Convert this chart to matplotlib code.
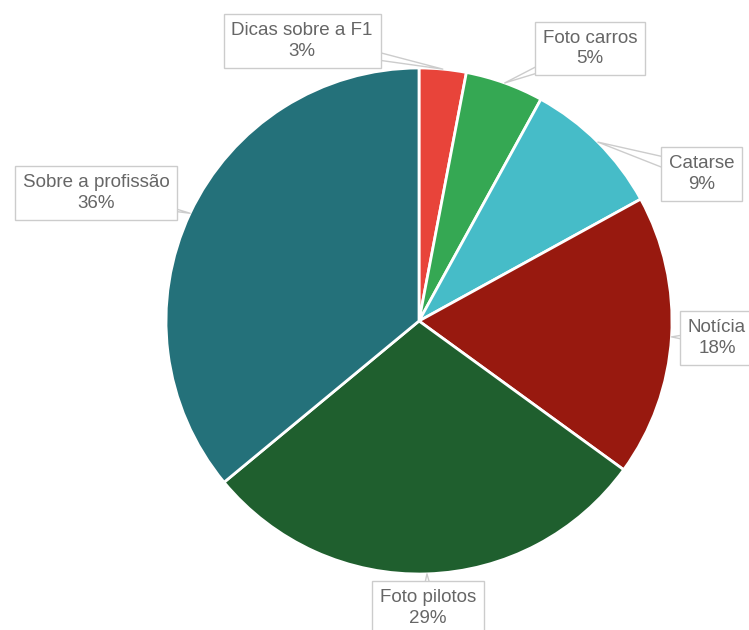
import matplotlib.pyplot as plt
import numpy as np

# Dados do gráfico (sentido horário a partir do topo)
categorias = ['Dicas sobre a F1', 'Foto carros', 'Catarse', 'Notícia',
              'Foto pilotos', 'Sobre a profissão']
valores = [3, 5, 9, 18, 29, 36]
cores = ['#E8443A', '#35A853', '#46BCC8', '#98190F', '#1F5F2E', '#24717A']

# Posição das caixas de rótulo (coordenadas de dados, raio = 1)
pos_rotulos = [(-0.462, 1.107), (0.676, 1.078), (1.118, 0.581),
               (1.178, -0.067), (0.036, -1.134), (-1.277, 0.506)]

fig = plt.figure(figsize=(7.49, 6.3), dpi=100)
ax = fig.add_axes([166 / 749, 56 / 630, 506 / 749, 506 / 630])

wedges, _ = ax.pie(valores, colors=cores, startangle=90, counterclock=False,
                   radius=1, wedgeprops=dict(edgecolor='white', linewidth=2))
ax.set_xlim(-1, 1)
ax.set_ylim(-1, 1)
ax.set_aspect('equal')
ax.axis('off')

total = sum(valores)
for w, nome, v, (tx, ty) in zip(wedges, categorias, valores, pos_rotulos):
    ang = np.deg2rad((w.theta1 + w.theta2) / 2)
    px, py = np.cos(ang), np.sin(ang)
    ax.annotate(f'{nome}\n{round(100 * v / total)}%', xy=(px, py), xytext=(tx, ty),
                ha='center', va='center', fontsize=13.5, color='#666666',
                family=['Liberation Sans', 'DejaVu Sans'], linespacing=1.27,
                annotation_clip=False,
                bbox=dict(boxstyle='square,pad=0.42', fc='white', ec='#cccccc', lw=1),
                arrowprops=dict(arrowstyle='wedge,tail_width=0.9', fc='white',
                                ec='#cccccc', lw=1, patchA=None, shrinkA=0, shrinkB=0))

fig.savefig('out.png', dpi=100)
